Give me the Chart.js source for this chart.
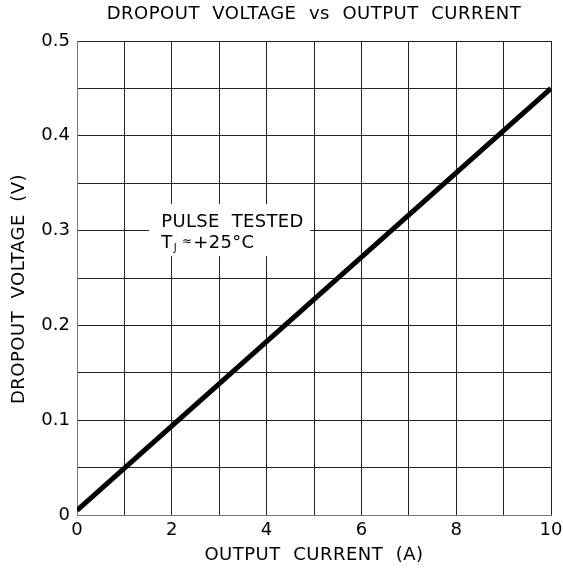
<!DOCTYPE html>
<html lang="en">
<head>
    <meta charset="UTF-8">
    <title>Dropout Voltage vs Output Current</title>
    <script src="https://cdn.jsdelivr.net/npm/chart.js"></script>
    <style>
        html, body { margin: 0; padding: 0; background: #fff; }
        #wrap { width: 563px; height: 571px; }
    </style>
</head>
<body>
    <div id="wrap"><canvas id="grafica"></canvas></div>
    <script>
        // datos
        const outputCurrent = [0, 10];          // A
        const dropoutVoltage = [0.005, 0.45];   // V
        const xTickLabels = ['0', '2', '4', '6', '8', '10'];
        const yTickLabels = ['0', '0.1', '0.2', '0.3', '0.4', '0.5'];
        const chartTitle = 'DROPOUT  VOLTAGE  vs  OUTPUT  CURRENT';
        const xTitle = 'OUTPUT  CURRENT  (A)';
        const yTitle = 'DROPOUT  VOLTAGE  (V)';
        const noteLine1 = 'PULSE  TESTED';
        const noteLine2 = ['T', 'J', '\u2248', '+25°C'];

        const FONT = "'DejaVu Sans', 'Liberation Sans', sans-serif";

        // titulos con espaciado entre letras
        const titlesPlugin = {
            id: 'titles',
            afterDraw(chart) {
                const ctx = chart.ctx;
                const a = chart.chartArea;
                const cx = (a.left + a.right) / 2;
                ctx.save();
                ctx.fillStyle = '#000';
                ctx.font = '18px ' + FONT;
                ctx.letterSpacing = '0.5px';
                ctx.textAlign = 'center';
                ctx.textBaseline = 'middle';
                ctx.fillText(chartTitle, cx, 14);
                ctx.fillText(xTitle, cx, 555);
                ctx.translate(19, 289);
                ctx.rotate(-Math.PI / 2);
                ctx.fillText(yTitle, 0, 0);
                ctx.restore();
            }
        };

        // caja de la nota con fondo blanco
        const notePlugin = {
            id: 'note',
            beforeDatasetsDraw(chart) {
                const ctx = chart.ctx;
                const xs = chart.scales.x, ys = chart.scales.y;
                const x0 = xs.getPixelForValue(1.52), x1 = xs.getPixelForValue(4.92);
                const y0 = ys.getPixelForValue(0.328), y1 = ys.getPixelForValue(0.273);
                ctx.save();
                ctx.fillStyle = '#fff';
                ctx.fillRect(x0, y0, x1 - x0, y1 - y0);
                ctx.fillStyle = '#000';
                ctx.textBaseline = 'alphabetic';
                ctx.font = '18px ' + FONT;
                ctx.letterSpacing = '0.3px';
                const tx = xs.getPixelForValue(1.78);
                ctx.fillText(noteLine1, tx, 227);
                const by = 248;
                ctx.fillText(noteLine2[0], tx, by);
                let cx = tx + ctx.measureText(noteLine2[0]).width + 1;
                ctx.font = '10px ' + FONT;
                ctx.fillText(noteLine2[1], cx, by + 3);
                cx += ctx.measureText(noteLine2[1]).width + 5;
                ctx.font = '12px ' + FONT;
                ctx.fillText(noteLine2[2], cx, by - 3);
                cx += ctx.measureText(noteLine2[2]).width + 1;
                ctx.font = '18px ' + FONT;
                ctx.fillText(noteLine2[3], cx, by);
                ctx.restore();
            }
        };

        const ctx = document.getElementById('grafica').getContext('2d');
        new Chart(ctx, {
            type: 'scatter',
            data: {
                datasets: [{
                    data: outputCurrent.map((x, i) => ({ x: x, y: dropoutVoltage[i] })),
                    showLine: true,
                    borderColor: '#000',
                    borderWidth: 5,
                    pointRadius: 0,
                    borderCapStyle: 'butt'
                }]
            },
            options: {
                responsive: true,
                maintainAspectRatio: false,
                animation: false,
                layout: { padding: { left: 0, right: 12, top: 41, bottom: 0 } },
                plugins: {
                    legend: { display: false },
                    tooltip: { enabled: false },
                    title: { display: false }
                },
                scales: {
                    x: {
                        type: 'linear',
                        min: 0,
                        max: 10,
                        ticks: {
                            stepSize: 1,
                            color: '#000',
                            padding: 5,
                            maxRotation: 0,
                            font: { family: FONT, size: 18 },
                            callback: v => (v % 2 === 0 ? xTickLabels[v / 2] : '')
                        },
                        grid: { color: '#222', lineWidth: 1, drawTicks: false },
                        border: { color: '#777', width: 1 },
                        afterFit: s => {
                            s.height = 56;
                            s.paddingLeft = 0;
                            s.paddingRight = 0;
                        }
                    },
                    y: {
                        min: 0,
                        max: 0.5,
                        ticks: {
                            stepSize: 0.05,
                            color: '#000',
                            padding: 7,
                            font: { family: FONT, size: 18 },
                            callback: v => {
                                const k = Math.round(v * 100);
                                return k % 10 === 0 ? yTickLabels[k / 10] : '';
                            }
                        },
                        grid: { color: '#222', lineWidth: 1, drawTicks: false },
                        border: { color: '#777', width: 1 },
                        afterFit: s => {
                            s.width = 77;
                            s.paddingTop = 0;
                            s.paddingBottom = 0;
                        }
                    }
                }
            },
            plugins: [notePlugin, titlesPlugin]
        });
    </script>
</body>
</html>
